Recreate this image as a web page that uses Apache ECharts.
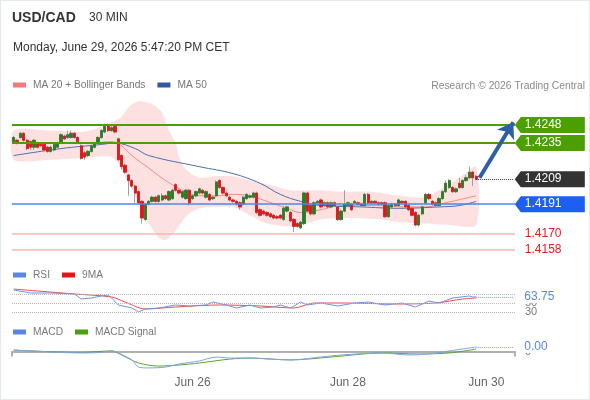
<!DOCTYPE html>
<html>
<head>
<meta charset="utf-8">
<script src="https://cdn.jsdelivr.net/npm/echarts@6/dist/echarts.min.js"></script>
<style>
  html, body { margin: 0; padding: 0; background: #fff; }
  #chart { width: 590px; height: 400px; background: #fff; box-shadow: inset 0 0 0 1px #e3e9ee; }
</style>
</head>
<body>
<div id="chart"></div>
<script>
// USD/CAD 30 min - candles + MA20/Bollinger, MA50, RSI, MACD

// [open, close, low, high]
const candles = [
  [1.4236,1.4239,1.4235,1.4240],[1.4237,1.4236,1.4234,1.4238],[1.4239,1.4242,1.4238,1.4243],[1.4242,1.4237,1.4236,1.4243],
  [1.4237,1.4231,1.4230,1.4238],[1.4236,1.4232,1.4230,1.4237],[1.4232,1.4237,1.4230,1.4238],[1.4235,1.4232,1.4231,1.4236],
  [1.4234,1.4233,1.4232,1.4235],[1.4234,1.4230,1.4229,1.4235],[1.4232,1.4229,1.4228,1.4233],[1.4229,1.4232,1.4228,1.4233],
  [1.4230,1.4234,1.4229,1.4235],[1.4232,1.4235,1.4231,1.4236],[1.4236,1.4241,1.4235,1.4242],[1.4240,1.4238,1.4237,1.4241],
  [1.4239,1.4241,1.4238,1.4244],[1.4239,1.4242,1.4238,1.4244],[1.4242,1.4239,1.4238,1.4243],[1.4239,1.4236,1.4235,1.4240],
  [1.4233,1.4224,1.4223,1.4234],[1.4228,1.4225,1.4223,1.4229],[1.4226,1.4229,1.4225,1.4230],[1.4229,1.4233,1.4228,1.4234],
  [1.4232,1.4235,1.4231,1.4236],[1.4235,1.4239,1.4234,1.4240],[1.4239,1.4244,1.4238,1.4245],[1.4243,1.4247,1.4242,1.4249],
  [1.4248,1.4244,1.4243,1.4249],[1.4244,1.4246,1.4243,1.4248],[1.4247,1.4243,1.4242,1.4248],[1.4238,1.4223,1.4222,1.4239],
  [1.4226,1.4218,1.4216,1.4227],[1.4219,1.4214,1.4213,1.4220],[1.4212,1.4208,1.4197,1.4213],[1.4208,1.4204,1.4203,1.4209],
  [1.4204,1.4199,1.4192,1.4205],[1.4200,1.4192,1.4191,1.4201],[1.4193,1.4181,1.4177,1.4194],[1.4180,1.4191,1.4179,1.4192],
  [1.4191,1.4193,1.4190,1.4194],[1.4193,1.4196,1.4192,1.4197],[1.4196,1.4193,1.4192,1.4197],[1.4193,1.4197,1.4192,1.4198],
  [1.4194,1.4197,1.4193,1.4199],[1.4197,1.4195,1.4194,1.4198],[1.4194,1.4200,1.4193,1.4201],[1.4195,1.4201,1.4194,1.4202],
  [1.4205,1.4201,1.4200,1.4206],[1.4201,1.4199,1.4198,1.4202],[1.4196,1.4200,1.4195,1.4201],[1.4195,1.4201,1.4194,1.4202],
  [1.4201,1.4192,1.4190,1.4202],[1.4195,1.4197,1.4194,1.4198],[1.4197,1.4200,1.4196,1.4201],[1.4199,1.4202,1.4198,1.4203],
  [1.4201,1.4199,1.4198,1.4202],[1.4196,1.4200,1.4195,1.4201],[1.4198,1.4194,1.4193,1.4199],[1.4195,1.4196,1.4194,1.4197],
  [1.4197,1.4207,1.4196,1.4208],[1.4208,1.4203,1.4202,1.4209],[1.4203,1.4199,1.4198,1.4204],[1.4199,1.4197,1.4196,1.4200],
  [1.4196,1.4194,1.4193,1.4197],[1.4194,1.4193,1.4192,1.4195],[1.4193,1.4191,1.4190,1.4194],[1.4192,1.4189,1.4187,1.4193],
  [1.4191,1.4196,1.4190,1.4197],[1.4195,1.4198,1.4194,1.4199],[1.4196,1.4197,1.4195,1.4198],[1.4196,1.4199,1.4195,1.4200],
  [1.4199,1.4185,1.4184,1.4200],[1.4187,1.4183,1.4182,1.4188],[1.4186,1.4184,1.4183,1.4187],[1.4185,1.4183,1.4182,1.4186],
  [1.4184,1.4182,1.4181,1.4185],[1.4183,1.4181,1.4180,1.4184],[1.4182,1.4181,1.4180,1.4183],[1.4183,1.4181,1.4180,1.4184],
  [1.4180,1.4188,1.4179,1.4190],[1.4186,1.4189,1.4185,1.4190],[1.4185,1.4179,1.4178,1.4186],[1.4180,1.4175,1.4171,1.4181],
  [1.4177,1.4175,1.4174,1.4178],[1.4174,1.4178,1.4173,1.4179],[1.4177,1.4199,1.4176,1.4200],[1.4199,1.4186,1.4185,1.4200],
  [1.4190,1.4184,1.4183,1.4191],[1.4184,1.4192,1.4183,1.4193],[1.4192,1.4193,1.4191,1.4194],[1.4194,1.4189,1.4188,1.4195],
  [1.4190,1.4192,1.4189,1.4193],[1.4192,1.4189,1.4188,1.4193],[1.4189,1.4192,1.4188,1.4193],[1.4192,1.4190,1.4189,1.4193],
  [1.4189,1.4180,1.4179,1.4190],[1.4180,1.4186,1.4179,1.4187],[1.4186,1.4191,1.4185,1.4201],[1.4190,1.4192,1.4189,1.4193],
  [1.4191,1.4187,1.4186,1.4192],[1.4192,1.4193,1.4191,1.4194],[1.4192,1.4191,1.4190,1.4193],[1.4191,1.4190,1.4189,1.4192],
  [1.4190,1.4198,1.4189,1.4199],[1.4198,1.4192,1.4191,1.4199],[1.4192,1.4193,1.4191,1.4194],[1.4193,1.4192,1.4191,1.4194],
  [1.4192,1.4191,1.4190,1.4193],[1.4192,1.4191,1.4190,1.4193],[1.4192,1.4182,1.4181,1.4193],[1.4182,1.4190,1.4181,1.4191],
  [1.4189,1.4191,1.4188,1.4192],[1.4191,1.4190,1.4189,1.4192],[1.4190,1.4194,1.4189,1.4195],[1.4193,1.4192,1.4191,1.4194],
  [1.4193,1.4189,1.4188,1.4194],[1.4190,1.4187,1.4186,1.4191],[1.4188,1.4183,1.4182,1.4189],[1.4185,1.4176,1.4175,1.4186],
  [1.4176,1.4183,1.4175,1.4184],[1.4184,1.4189,1.4183,1.4190],[1.4192,1.4198,1.4191,1.4199],[1.4198,1.4195,1.4194,1.4199],
  [1.4193,1.4191,1.4190,1.4194],[1.4192,1.4190,1.4189,1.4193],[1.4190,1.4195,1.4189,1.4196],[1.4195,1.4200,1.4194,1.4201],
  [1.4200,1.4206,1.4199,1.4208],[1.4203,1.4208,1.4202,1.4209],[1.4203,1.4200,1.4199,1.4204],[1.4200,1.4202,1.4199,1.4203],
  [1.4206,1.4203,1.4202,1.4210],[1.4203,1.4208,1.4202,1.4209],[1.4208,1.4210,1.4207,1.4212],[1.4210,1.4214,1.4209,1.4218],
  [1.4214,1.4210,1.4204,1.4215],[1.4211,1.4209,1.4208,1.4212]
];

// [slot index, value]
const ma20 = [[0,1.4235],[11,1.4235],[23,1.4235],[29,1.4236],[32,1.4233],[35,1.4226],[40,1.4217],[45,1.4208],[50,1.4201],
  [55,1.4197],[60,1.4197],[65,1.4198],[70,1.4197],[75,1.4193],[81,1.4188],[85,1.4185],[91,1.4187],[97,1.4190],[106,1.4190],
  [117,1.4189],[122,1.4189],[128,1.4192],[137,1.4197]];
const ma50 = [[0,1.4226],[14,1.4231],[26,1.4234],[30,1.4235],[36,1.4231],[40,1.4226],[55,1.4218],[65,1.4213],[73,1.4206],
  [79,1.4198],[85,1.4193],[91,1.4190],[103,1.4189],[114,1.4188],[126,1.4189],[132,1.4190],[137,1.4193]];
const bandUpper = [[0,1.4244],[11,1.4244],[20,1.4243],[24,1.4245],[29,1.4250],[32,1.4254],[34,1.4261],[37,1.4265],[41,1.4263],
  [44,1.4257],[46,1.4244],[48,1.4235],[49,1.4225],[51,1.4216],[55,1.4210],[60,1.4211],[65,1.4211],[70,1.4208],[76,1.4205],
  [82,1.4201],[91,1.4201],[97,1.4200],[106,1.4200],[114,1.4197],[122,1.4196],[126,1.4201],[132,1.4210],[137,1.4218]];
const bandLower = [[0,1.4223],[11,1.4223],[20,1.4224],[29,1.4225],[32,1.4216],[37,1.4192],[40,1.4177],[43,1.4167],[45,1.4165],
  [48,1.4172],[51,1.4182],[55,1.4188],[60,1.4189],[65,1.4189],[70,1.4183],[75,1.4177],[81,1.4175],[85,1.4176],[91,1.4180],
  [100,1.4181],[109,1.4180],[114,1.4178],[122,1.4177],[129,1.4176],[137,1.4176]];

const rsi = [[0,78.9],[5,72.2],[11,72.2],[18,70],[20,58.9],[23,61.1],[26,65.6],[28,67.8],[29,61.1],[31,45.6],[35,38.9],
  [37,30],[39,36.7],[43,38.9],[48,45.6],[52,43.3],[57,45.6],[59,52.2],[63,45.6],[66,38.9],[70,45.6],[73,38.9],[77,41.1],
  [79,45.6],[82,38.9],[85,52.2],[87,45.6],[91,50],[96,43.3],[101,50],[105,52.2],[110,45.6],[115,50],[119,41.1],[123,54.4],
  [126,50],[130,61.1],[135,65.6],[136,63.3],[137,63.75]];
const rsiMa = [[0,81],[18,70],[29,63.3],[33,52.2],[39,36.7],[48,41.1],[61,45.6],[73,43.3],[83,38.9],[89,50],[98,50],
  [113,47.8],[125,50],[133,58.9],[137,61.1]];
const macd = [[0,0.00009],[11,-0.00002],[20,-0.00008],[26,-0.00005],[29,0.00004],[31,-0.00008],[35,-0.00049],[37,-0.00091],
  [40,-0.00096],[45,-0.00091],[49,-0.00073],[55,-0.00055],[60,-0.00032],[64,-0.00038],[70,-0.00038],[76,-0.00044],
  [82,-0.00049],[91,-0.00032],[97,-0.0002],[109,-0.00008],[117,-0.0002],[123,-0.00014],[129,0.00004],[137,0.00027]];
const macdSignal = [[0,0.00009],[20,-0.00005],[29,0.00004],[32,-0.0002],[37,-0.00067],[43,-0.00085],[49,-0.00079],
  [55,-0.00067],[64,-0.00044],[70,-0.00038],[82,-0.00049],[94,-0.00032],[109,-0.00008],[120,-0.00014],[129,-0.00008],[137,0.00015]];

const resistances = [1.4248, 1.4235];
const lastPrice = 1.4209;
const pivot = 1.4191;
const supports = [1.4170, 1.4158];
const target = 1.4250;
const rsiLast = 63.75;
const macdLast = 0.00027;

const slotCount = 149;
const dateTicks = [[53, 'Jun 26'], [99, 'Jun 28'], [140, 'Jun 30']];
const slots = Array.from({ length: slotCount }, (_, i) => String(i));

const lastIdx = candles.length - 1;
const endIdx = slotCount - 1;
const font = 'Liberation Sans, Arial, sans-serif';
const green = '#4c9f00', blue = '#1d5ff0', dark = '#333333';
const tagPath = 'path://M0,8L6,0L70,0L70,16L6,16Z';

// price tag at the right edge; transparent tag = plain coloured text
function tag(value, color, textColor) {
  return {
    coord: [endIdx, value], name: value.toFixed(4), itemStyle: { color: color },
    label: { color: textColor || '#fff' }
  };
}
function level(value, color, width) {
  return [ { coord: [0, value], x: 12, lineStyle: { color: color, width: width, type: 'solid' } }, { coord: [endIdx, value], x: 515 } ];
}

var chart = echarts.init(document.getElementById('chart'));

const hiddenX = (g) => ({ type: 'category', gridIndex: g, data: slots, show: false, boundaryGap: true });

const option = {
  animation: false,
  textStyle: { fontFamily: font },
  title: [
    { text: 'USD/CAD', left: 12, top: 11, padding: 0, textStyle: { fontSize: 14, fontWeight: 'bold', color: '#333', fontFamily: font } },
    { text: '30 MIN', left: 89, top: 12, padding: 0, textStyle: { fontSize: 12, fontWeight: 'normal', color: '#333', fontFamily: font } },
    { text: 'Monday, June 29, 2026 5:47:20 PM CET', left: 13, top: 42, padding: 0, textStyle: { fontSize: 12, fontWeight: 'normal', color: '#333', fontFamily: font } },
    { text: 'Research © 2026 Trading Central', right: 5, top: 81, padding: 0, textStyle: { fontSize: 10.3, fontWeight: 'normal', color: '#8a8a8a', fontFamily: font } }
  ],
  legend: [
    { left: 13, top: 80, padding: 0, icon: 'rect', itemWidth: 13, itemHeight: 5, itemGap: 12, selectedMode: false,
      textStyle: { color: '#777', fontSize: 10.2, fontFamily: font, padding: [0, 0, 0, 2] },
      data: [{ name: 'MA 20 + Bollinger Bands', itemStyle: { color: '#f47a7a' } }, { name: 'MA 50', itemStyle: { color: '#2f5a9e' } }] },
    { left: 13, top: 270, padding: 0, icon: 'rect', itemWidth: 13, itemHeight: 5, itemGap: 12, selectedMode: false,
      textStyle: { color: '#777', fontSize: 10.2, fontFamily: font, padding: [0, 0, 0, 2] },
      data: [{ name: 'RSI', itemStyle: { color: '#5b86e5' } }, { name: '9MA', itemStyle: { color: '#e8141b' } }] },
    { left: 13, top: 327, padding: 0, icon: 'rect', itemWidth: 13, itemHeight: 5, itemGap: 12, selectedMode: false,
      textStyle: { color: '#777', fontSize: 10.2, fontFamily: font, padding: [0, 0, 0, 2] },
      data: [{ name: 'MACD', itemStyle: { color: '#5b86e5' } }, { name: 'MACD Signal', itemStyle: { color: '#4a9e12' } }] }
  ],
  grid: [
    { left: 12, right: 75, top: 100, height: 158.3 },
    { left: 12, right: 75, top: 285, height: 31.5 },
    { left: 12, right: 75, top: 338, height: 34 }
  ],
  xAxis: [
    hiddenX(0),
    hiddenX(1),
    {
      type: 'category', gridIndex: 2, data: slots, boundaryGap: true,
      axisLine: { lineStyle: { color: '#b0b0b0', width: 2 } },
      axisTick: { show: true, length: 5, interval: (i) => i === 0, lineStyle: { color: '#b0b0b0', width: 2 } },
      axisLabel: {
        interval: (i) => dateTicks.some(d => d[0] === i),
        formatter: (v, i) => { const d = dateTicks.find(t => t[0] === i); return d ? d[1] : ''; },
        color: '#666', fontSize: 12, margin: 5
      }
    }
  ],
  yAxis: [
    { type: 'value', gridIndex: 0, min: 1.4152, max: 1.4266, show: false },
    { type: 'value', gridIndex: 1, min: 20, max: 90, interval: 10, position: 'right',
      splitLine: { show: false }, axisLine: { show: false }, axisTick: { show: false },
      axisLabel: { margin: 10, color: '#777', fontSize: 11, formatter: (v) => (v === 30 || v === 50) ? String(v) : '' } },
    { type: 'value', gridIndex: 2, min: -0.0012, max: 0.0008, interval: 0.0004, position: 'right',
      splitLine: { show: false }, axisLine: { show: false }, axisTick: { show: false },
      axisLabel: { margin: 10, color: '#777', fontSize: 11, formatter: (v) => Math.abs(v) < 1e-9 ? '0' : '' } }
  ],
  series: [
    {
      // bollinger envelope
      type: 'custom', xAxisIndex: 0, yAxisIndex: 0, silent: true, z: 1, clip: false,
      data: [[0, bandUpper[0][1]]],
      renderItem: function (params, api) {
        const pts = bandUpper.map(p => api.coord(p)).concat(bandLower.slice().reverse().map(p => api.coord(p)));
        return { type: 'polygon', shape: { points: pts, smooth: 0.25 }, style: { fill: '#fde1e1' } };
      }
    },
    {
      name: 'MA 20 + Bollinger Bands', type: 'line', xAxisIndex: 0, yAxisIndex: 0, z: 2,
      data: ma20, smooth: 0.4, showSymbol: false, color: '#f28a8a', lineStyle: { width: 1 }
    },
    {
      name: 'MA 50', type: 'line', xAxisIndex: 0, yAxisIndex: 0, z: 2,
      data: ma50, smooth: 0.4, showSymbol: false, color: '#4a6fb0', lineStyle: { width: 1 },
      markLine: {
        silent: true, symbol: 'none', animation: false,
        label: { show: false },
        data: [
          level(resistances[0], green, 2),
          level(resistances[1], green, 2),
          level(pivot, '#4a86f0', 1.5),
          level(supports[0], '#f6b4b4', 1.5),
          level(supports[1], '#f6b4b4', 1.5)
        ]
      }
    },
    {
      // wicks
      type: 'candlestick', xAxisIndex: 0, yAxisIndex: 0, z: 3, barWidth: 2.8,
      data: candles,
      itemStyle: { color: '#a0a0a0', color0: '#a0a0a0', borderColor: '#a0a0a0', borderColor0: '#a0a0a0', borderWidth: 1 }
    },
    {
      // bodies
      type: 'candlestick', xAxisIndex: 0, yAxisIndex: 0, z: 4, barWidth: 2.8,
      data: candles.map(c => [c[0], c[1], Math.min(c[0], c[1]), Math.max(c[0], c[1])]),
      itemStyle: { color: '#2e7a26', color0: '#e3151a', borderColor: '#2e7a26', borderColor0: '#e3151a', borderWidth: 0.8 },
      markLine: {
        silent: true, symbol: 'none', animation: false,
        label: { show: false },
        data: [
          [ { coord: [lastIdx, lastPrice], lineStyle: { color: dark, width: 1, type: 'dotted' } }, { coord: [endIdx, lastPrice] } ],
          [ { coord: [lastIdx + 1, lastPrice + 0.0001], symbol: 'none', lineStyle: { color: '#2d5fa6', width: 4, type: 'solid' } },
            { coord: [endIdx, target], symbol: 'arrow', symbolSize: 15 } ]
        ]
      },
      markPoint: {
        silent: true, animation: false,
        symbol: tagPath, symbolSize: [70, 16], symbolOffset: [36.5, 0],
        label: { show: true, position: 'insideLeft', distance: 10, formatter: '{b}', color: '#fff', fontSize: 12 },
        data: [
          tag(resistances[0], green), tag(resistances[1], green), tag(lastPrice, dark), tag(pivot, blue),
          tag(supports[0], 'rgba(255,255,255,0)', '#e8191c'), tag(supports[1], 'rgba(255,255,255,0)', '#e8191c')
        ]
      }
    },
    {
      name: 'RSI', type: 'line', xAxisIndex: 1, yAxisIndex: 1, data: rsi, showSymbol: false,
      color: '#6d93ea', lineStyle: { width: 1 }, z: 3,
      markLine: {
        silent: true, symbol: 'none', animation: false, label: { show: false },
        data: [
          { yAxis: 70, lineStyle: { color: '#b8b8b8', type: 'dotted', width: 1 } },
          { yAxis: 50, lineStyle: { color: '#b8b8b8', type: 'dotted', width: 1 } },
          { yAxis: 30, lineStyle: { color: '#b8b8b8', type: 'dotted', width: 1 } },
          [ { coord: [lastIdx, rsiLast], lineStyle: { color: '#7fa2ee', type: 'dotted', width: 1 },
              label: { show: true, position: 'end', distance: 11, formatter: rsiLast.toFixed(2), color: '#5b86e5', fontSize: 12, backgroundColor: '#fff' } },
            { coord: [endIdx, rsiLast] } ]
        ]
      }
    },
    {
      name: '9MA', type: 'line', xAxisIndex: 1, yAxisIndex: 1, data: rsiMa, showSymbol: false, smooth: 0.3,
      color: '#ef4b4b', lineStyle: { width: 1 }, z: 2
    },
    {
      name: 'MACD', type: 'line', xAxisIndex: 2, yAxisIndex: 2, data: macd, showSymbol: false, smooth: 0.3,
      color: '#7fa2ee', lineStyle: { width: 1 }, z: 3,
      markLine: {
        silent: true, symbol: 'none', animation: false,
        data: [
          [ { coord: [lastIdx, macdLast], lineStyle: { color: '#7fa2ee', type: 'dotted', width: 1 },
              label: { show: true, position: 'end', distance: 11, formatter: macdLast.toFixed(2), color: '#5b86e5', fontSize: 12, backgroundColor: '#fff' } },
            { coord: [endIdx, macdLast] } ]
        ]
      }
    },
    {
      name: 'MACD Signal', type: 'line', xAxisIndex: 2, yAxisIndex: 2, data: macdSignal, showSymbol: false, smooth: 0.3,
      color: '#5aa52a', lineStyle: { width: 1 }, z: 2
    }
  ]
};

chart.setOption(option);
</script>
</body>
</html>
